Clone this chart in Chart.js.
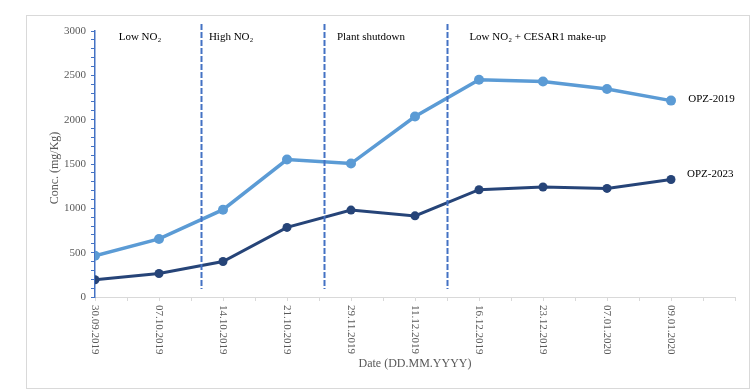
<!DOCTYPE html>
<html>
<head>
<meta charset="utf-8">
<script src="https://cdn.jsdelivr.net/npm/chart.js@4.4.0/dist/chart.umd.min.js"></script>
<style>
  html, body { margin: 0; padding: 0; background: #fff; }
  #wrap { width: 756px; height: 391px; }
</style>
</head>
<body>
<div id="wrap"><canvas id="concChart" width="756" height="391"></canvas></div>
<script>
const dates = [
  "30.09.2019", "07.10.2019", "14.10.2019", "21.10.2019", "29.11.2019",
  "11.12.2019", "16.12.2019", "23.12.2019", "07.01.2020", "09.01.2020"
];
const opz2019 = [465, 655, 985, 1550, 1505, 2035, 2450, 2430, 2345, 2215];
const opz2023 = [195, 265, 400, 785, 980, 915, 1210, 1240, 1225, 1325];

// phase boundaries (in category units) and phase captions
const phaseBounds = [1.65, 3.58, 5.5];
const phaseNames = ["Low NO\u2082", "High NO\u2082", "Plant shutdown", "Low NO\u2082 + CESAR1 make-up"];
const phaseLabelX = [0.37, 1.78, 3.78, 5.85];

const serif = "'Liberation Serif', 'Times New Roman', serif";
const textGray = "#595959";

const toPoints = arr => arr.map((v, i) => ({ x: i, y: v }));

const extras = {
  id: "extras",
  beforeDraw(chart) {
    const c = chart.ctx;
    c.save();
    c.strokeStyle = "#D9D9D9";
    c.lineWidth = 1;
    c.strokeRect(26.5, 15.5, 723, 373);
    c.restore();
  },
  afterDatasetsDraw(chart) {
    const c = chart.ctx;
    const { scales: { x, y } } = chart;

    // dashed phase separators
    c.save();
    c.strokeStyle = "#4472C4";
    c.lineWidth = 2;
    c.setLineDash([6, 2]);
    phaseBounds.forEach(b => {
      const px = Math.round(x.getPixelForValue(b)) + 0.5;
      c.beginPath();
      c.moveTo(px, y.getPixelForValue(3080));
      c.lineTo(px, y.getPixelForValue(90));
      c.stroke();
    });
    c.setLineDash([]);

    // phase captions
    c.fillStyle = "#000";
    c.font = "11px " + serif;
    c.textAlign = "left";
    c.textBaseline = "middle";
    phaseNames.forEach((t, i) => {
      c.fillText(t, x.getPixelForValue(phaseLabelX[i]), y.getPixelForValue(2930));
    });

    // series end labels
    c.fillText("OPZ-2019", x.getPixelForValue(9.27), y.getPixelForValue(2215) - 1);
    c.fillText("OPZ-2023", x.getPixelForValue(9.25), y.getPixelForValue(1390));

    // rotated date labels
    c.fillStyle = textGray;
    dates.forEach((d, i) => {
      c.save();
      c.translate(x.getPixelForValue(i), y.bottom + 8);
      c.rotate(Math.PI / 2);
      c.textAlign = "left";
      c.textBaseline = "middle";
      c.fillText(d, 0, 0);
      c.restore();
    });

    // axis titles
    c.font = "12px " + serif;
    c.textAlign = "center";
    c.fillText("Date (DD.MM.YYYY)", (x.left + x.right) / 2, 364);
    c.save();
    c.translate(55, 168);
    c.rotate(-Math.PI / 2);
    c.fillText("Conc. (mg/Kg)", 0, 0);
    c.restore();
    c.restore();
  }
};

new Chart(document.getElementById("concChart"), {
  type: "line",
  data: {
    datasets: [
      {
        label: "OPZ-2019",
        data: toPoints(opz2019),
        borderColor: "#5B9BD5",
        backgroundColor: "#5B9BD5",
        borderWidth: 3.5,
        pointRadius: 5,
        pointBorderWidth: 0,
        tension: 0
      },
      {
        label: "OPZ-2023",
        data: toPoints(opz2023),
        borderColor: "#264478",
        backgroundColor: "#264478",
        borderWidth: 3,
        pointRadius: 4.5,
        pointBorderWidth: 0,
        tension: 0
      }
    ]
  },
  plugins: [extras],
  options: {
    responsive: false,
    animation: false,
    layout: { padding: { top: 31, right: 21, bottom: 0, left: 0 } },
    plugins: {
      legend: { display: false },
      tooltip: { enabled: false }
    },
    scales: {
      x: {
        type: "linear",
        min: 0,
        max: 10,
        afterFit: s => { s.height = 94; },
        ticks: {
          stepSize: 0.5,
          autoSkip: false,
          maxRotation: 0,
          callback: () => ""
        },
        grid: {
          drawOnChartArea: false,
          color: "#D9D9D9",
          tickLength: 4
        },
        border: { color: "#D9D9D9" }
      },
      y: {
        min: 0,
        max: 3000,
        afterFit: s => { s.width = 95; },
        ticks: {
          stepSize: 100,
          autoSkip: false,
          padding: 5,
          color: textGray,
          font: { family: serif, size: 11 },
          callback: v => (v % 500 === 0 ? v : "")
        },
        grid: {
          drawOnChartArea: false,
          color: "#4472C4",
          tickLength: 4
        },
        border: { color: "#4472C4", width: 1.5 }
      }
    }
  }
});
</script>
</body>
</html>
